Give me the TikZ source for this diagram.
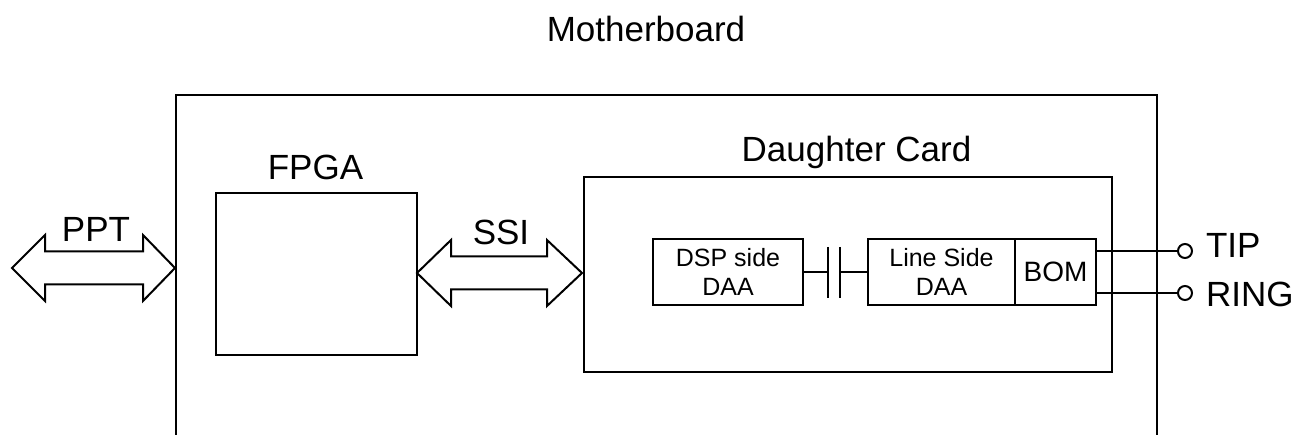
\documentclass[tikz,border=0pt]{standalone}
\usepackage{fontspec}
\setmainfont{Liberation Sans}
\begin{document}
\begin{tikzpicture}[x=1pt,y=-1pt,line width=2pt,
  box/.style={draw,inner sep=0pt,anchor=center},
  lbl/.style={font=\fontsize{35}{40}\selectfont,anchor=base,inner sep=0pt},
  small/.style={font=\fontsize{25}{29}\selectfont,align=center},
  term/.style={draw,circle,minimum size=14pt,inner sep=0pt,line width=2pt}]
\useasboundingbox (0,0) rectangle (1302,435);
% boxes
\node[box,minimum width=981pt,minimum height=360pt] (mb) at (666.5,275) {};
\node[box,minimum width=201pt,minimum height=162pt] (fpga) at (316.5,274) {};
\node[box,minimum width=528pt,minimum height=195pt] (dc) at (848,274.5) {};
\node[box,small,minimum width=150pt,minimum height=66pt] (dsp) at (728,272) {DSP side\\DAA};
\node[box,small,minimum width=147pt,minimum height=66pt] (ls) at (941.5,272) {Line Side\\DAA};
\node[box,font=\fontsize{28}{32}\selectfont,minimum width=81pt,minimum height=66pt] (bom) at (1055.5,272) {BOM};
% labels
\node[lbl] (tmb) at (646,42) {Motherboard};
\node[lbl] (tfpga) at (315.5,180) {FPGA};
\node[lbl] (tdc) at (856.5,162) {Daughter Card};
\node[lbl] (tppt) at (96,242) {PPT};
\node[lbl] (tssi) at (501,245) {SSI};
% capacitor
\coordinate (p1) at (828,272);
\coordinate (p2) at (840,272);
\draw (dsp.east) -- (p1);
\draw (p2) -- (ls.west);
\draw ([yshift=25pt]p1) -- ([yshift=-26pt]p1);
\draw ([yshift=25pt]p2) -- ([yshift=-26pt]p2);
% terminals
\node[term] (tip) at (1185,251) {};
\node[term] (ring) at (1185,293) {};
\draw (tip.west) -- (tip.west -| bom.east);
\draw (ring.west) -- (ring.west -| bom.east);
\node[lbl,anchor=base west] (ttip) at (1205,258) {TIP};
\node[lbl,anchor=base west] (tring) at (1205,307) {RING};
% double arrows
\draw (12,268) -- (45,235) -- (45,251.5) -- (143,251.5) -- (143,235) -- (175,268)
  -- (143,301) -- (143,284.5) -- (45,284.5) -- (45,301) -- cycle;
\draw (417,273) -- (451,240) -- (451,256.5) -- (547,256.5) -- (547,240) -- (582,273)
  -- (547,306) -- (547,289.5) -- (451,289.5) -- (451,306) -- cycle;
\end{tikzpicture}
\end{document}
